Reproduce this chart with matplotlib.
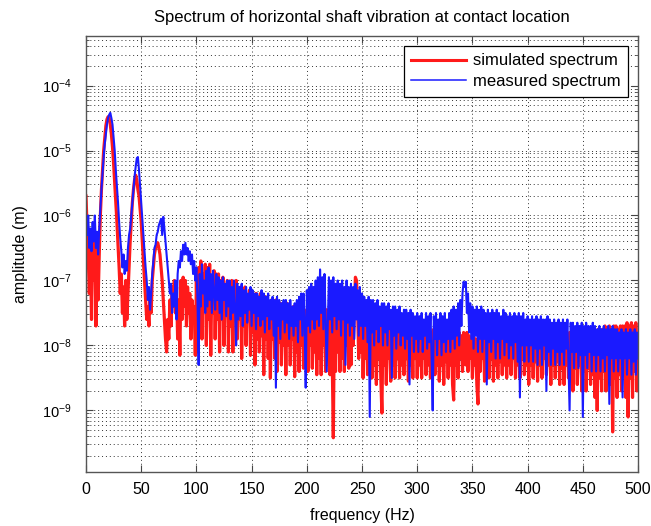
import numpy as np
import matplotlib
matplotlib.use("Agg")
import matplotlib.pyplot as plt
from matplotlib.ticker import LogLocator, MultipleLocator, NullFormatter, FixedLocator

FONT = ["Liberation Sans Narrow", "Liberation Sans", "DejaVu Sans"]
plt.rcParams["font.family"] = FONT
plt.rcParams["mathtext.fontset"] = "custom"
plt.rcParams["mathtext.rm"] = "Liberation Sans"
plt.rcParams["mathtext.it"] = "Liberation Sans"
plt.rcParams["mathtext.default"] = "regular"

freq = np.arange(0, 501, 1)
decades = [-9, -8, -7, -6, -5, -4]

# log10 of amplitude (m), one row = 10 Hz
sim_log = [
    -5.7, -6.2, -6.6, -7.2, -6.5, -7.6, -6.4, -7.0, -6.3, -7.7,    # 0
    -6.5, -7.3, -6.6, -6.0, -5.6, -5.3, -5.0, -4.8, -4.62, -4.52,  # 10
    -4.48, -4.5, -4.6, -4.75, -4.95, -5.2, -5.5, -5.8, -6.1, -6.45,# 20
    -6.8, -7.2, -6.9, -7.5, -7.1, -7.7, -7.0, -7.6, -7.2, -6.8,    # 30
    -6.4, -6.1, -5.8, -5.6, -5.45, -5.38, -5.45, -5.6, -5.7, -5.9, # 40
    -6.1, -6.4, -6.7, -7.0, -7.3, -7.6, -7.4, -7.7, -7.2, -7.5,    # 50
    -7.0, -6.8, -6.6, -6.5, -6.45, -6.42, -6.5, -6.6, -6.8, -7.0,  # 60
    -7.3, -7.6, -7.9, -8.1, -7.6, -7.9, -7.3, -7.7, -7.1, -7.4,    # 70
    -7.0, -7.5, -7.1, -7.9, -7.3, -8.15, -7.0, -7.6, -6.95, -7.4,  # 80
    -7.0, -7.7, -7.1, -7.5, -7.2, -7.9, -7.3, -7.6, -7.4, -8.15,   # 90
    -7.0, -8.1, -6.8, -7.5, -6.7, -7.9, -6.9, -7.4, -6.75, -8.0,   # 100
    -6.8, -7.6, -6.75, -8.15, -7.0, -7.5, -6.85, -7.9, -6.9, -7.6, # 110
    -6.9, -8.1, -7.0, -7.6, -6.95, -8.0, -7.1, -7.5, -7.0, -8.1,   # 120
    -7.05, -7.7, -7.0, -8.1, -7.1, -7.6, -7.0, -7.9, -7.15, -7.6,  # 130
    -7.1, -8.2, -7.2, -7.7, -7.1, -8.0, -7.25, -7.6, -7.15, -8.15, # 140
    -7.2, -7.8, -7.25, -8.3, -7.2, -7.9, -7.3, -8.1, -7.2, -7.85,  # 150
    -7.3, -8.45, -7.25, -7.9, -7.3, -8.2, -7.35, -8.5, -7.3, -7.9, # 160
    -7.35, -8.2, -7.3, -8.4, -7.4, -7.95, -7.35, -8.3, -7.4, -8.0, # 170
    -7.4, -8.45, -7.35, -8.0, -7.4, -8.3, -7.45, -7.9, -7.4, -8.48,# 180
    -7.45, -8.1, -7.4, -8.4, -7.45, -8.0, -7.4, -8.35, -7.5, -8.1, # 190
    -7.45, -8.4, -7.4, -8.0, -7.5, -8.35, -7.4, -8.1, -7.45, -8.45,# 200
    -7.4, -8.2, -7.45, -8.45, -7.4, -8.0, -7.5, -8.4, -7.45, -8.1, # 210
    -7.5, -8.45, -7.45, -8.2, -9.42, -7.5, -8.4, -7.45, -8.1, -7.5,# 220
    -8.4, -7.55, -8.2, -7.5, -8.4, -7.55, -8.0, -7.5, -8.35, -7.55,# 230
    -8.3, -7.5, -8.0, -7.45, -6.95, -7.0, -7.4, -8.2, -7.55, -8.1, # 240
    -7.6, -8.5, -7.65, -8.2, -7.6, -8.45, -7.65, -8.1, -7.6, -8.5, # 250
    -7.65, -8.3, -7.7, -8.6, -7.65, -8.2, -7.7, -8.5, -9.04, -7.7, # 260
    -8.3, -7.7, -8.6, -7.75, -8.2, -7.7, -8.55, -7.75, -8.3, -7.7, # 270
    -8.5, -7.75, -8.2, -7.8, -8.5, -7.75, -8.3, -7.8, -8.45, -7.75,# 280
    -8.2, -7.8, -8.55, -7.75, -8.3, -7.8, -8.5, -7.75, -8.2, -7.8, # 290
    -8.5, -7.8, -8.3, -7.85, -8.5, -7.8, -8.2, -7.85, -8.45, -7.8, # 300
    -8.3, -7.75, -8.5, -7.8, -8.2, -7.75, -8.45, -7.8, -8.3, -7.75,# 310
    -8.55, -7.8, -8.3, -7.85, -8.6, -7.8, -8.25, -7.85, -8.5, -7.8,# 320
    -8.3, -7.85, -8.6, -8.84, -7.8, -8.3, -7.85, -8.5, -7.8, -8.2, # 330
    -7.85, -8.4, -7.8, -7.85, -8.3, -7.8, -8.4, -7.85, -8.2, -7.9, # 340
    -8.5, -7.85, -8.3, -7.9, -8.6, -8.9, -7.85, -8.4, -7.9, -8.2,  # 350
    -7.85, -8.55, -7.9, -8.3, -7.85, -8.5, -7.9, -8.2, -7.85, -8.55,# 360
    -7.9, -8.3, -7.85, -8.5, -7.9, -8.25, -7.9, -8.45, -7.85, -8.3,# 370
    -7.9, -8.5, -7.85, -8.3, -7.9, -8.45, -7.9, -8.2, -7.85, -8.5, # 380
    -7.9, -8.3, -7.85, -8.5, -7.9, -8.2, -7.85, -8.45, -7.9, -8.3, # 390
    -7.85, -8.6, -7.9, -8.3, -7.85, -8.5, -7.9, -8.25, -7.85, -8.55,# 400
    -7.8, -8.3, -7.85, -8.5, -7.8, -8.2, -7.85, -8.45, -7.8, -8.3, # 410
    -7.85, -8.6, -7.8, -8.3, -7.85, -8.5, -7.8, -8.25, -7.85, -8.6,# 420
    -7.8, -8.35, -7.85, -8.6, -7.8, -8.3, -7.85, -8.5, -7.8, -8.4, # 430
    -7.8, -8.7, -7.85, -8.35, -7.8, -8.6, -7.8, -8.3, -7.85, -8.7, # 440
    -7.8, -8.4, -7.75, -8.7, -7.8, -8.35, -7.8, -8.6, -7.75, -8.45,# 450
    -7.75, -8.8, -7.8, -9.0, -7.75, -8.5, -7.8, -8.7, -7.75, -8.4, # 460
    -7.7, -8.7, -7.75, -8.4, -7.7, -8.6, -7.75, -9.33, -7.7, -8.5, # 470
    -7.7, -8.8, -7.75, -8.45, -7.7, -8.7, -7.7, -8.4, -7.7, -8.8,  # 480
    -7.65, -9.1, -7.7, -8.5, -7.65, -8.8, -7.7, -8.4, -7.65, -8.7, # 490
    -8.0,                                                          # 500
]

meas_log = [
    -6.1, -6.3, -6.0, -6.5, -6.2, -6.55, -6.1, -6.4, -6.0, -6.5,   # 0
    -6.25, -6.6, -6.2, -5.9, -5.6, -5.35, -5.1, -4.9, -4.75, -4.6, # 10
    -4.5, -4.45, -4.42, -4.5, -4.6, -4.8, -5.0, -5.3, -5.55, -5.8, # 20
    -6.1, -6.35, -6.55, -6.8, -6.6, -6.9, -6.7, -6.85, -6.5, -6.3, # 30
    -6.2, -6.0, -5.8, -5.6, -5.4, -5.25, -5.12, -5.1, -5.3, -5.55, # 40
    -5.8, -6.05, -6.3, -6.55, -6.8, -7.0, -7.3, -7.1, -7.45, -7.2, # 50
    -6.9, -6.7, -6.5, -6.45, -6.3, -6.25, -6.15, -6.1, -6.05, -6.3,# 60
    -6.02, -6.2, -6.4, -6.6, -6.8, -7.0, -7.2, -7.05, -7.5, -7.2,  # 70
    -7.4, -7.0, -7.6, -6.9, -6.7, -6.8, -6.55, -6.7, -6.45, -6.6,  # 80
    -6.42, -6.6, -6.5, -6.7, -6.55, -6.75, -6.6, -6.9, -6.7, -7.0, # 90
    -6.8, -7.3, -8.3, -6.9, -7.4, -6.75, -7.2, -7.0, -7.5, -6.85,  # 100
    -7.4, -6.8, -7.3, -6.9, -7.5, -6.85, -7.2, -7.45, -6.9, -7.3,  # 110
    -6.95, -7.5, -7.0, -7.6, -6.95, -7.3, -7.05, -7.55, -7.0, -7.4,# 120
    -7.0, -7.6, -7.1, -7.5, -7.0, -7.45, -8.0, -7.05, -7.6, -7.1,  # 130
    -7.55, -7.05, -7.7, -7.15, -7.5, -7.1, -7.65, -7.2, -7.45, -7.1,# 140
    -7.7, -7.15, -7.5, -7.2, -7.75, -7.2, -7.55, -7.25, -7.7, -7.15,# 150
    -7.6, -7.2, -7.8, -7.25, -7.55, -7.2, -7.75, -7.3, -7.6, -7.25,# 160
    -7.85, -7.3, -8.65, -7.25, -7.7, -7.3, -7.9, -7.35, -7.6, -7.3,# 170
    -7.8, -7.3, -7.65, -7.35, -7.9, -7.3, -7.7, -7.4, -7.85, -7.35,# 180
    -7.7, -7.3, -7.95, -7.25, -7.6, -7.2, -7.85, -7.2, -7.65, -8.65,# 190
    -7.15, -7.7, -7.1, -7.8, -7.05, -7.6, -7.1, -7.75, -7.0, -7.6, # 200
    -6.95, -7.7, -6.83, -7.5, -6.95, -7.75, -6.9, -7.6, -8.4, -7.7,# 210
    -6.95, -7.6, -7.0, -7.8, -6.95, -7.55, -7.05, -7.75, -7.0, -7.6,# 220
    -7.05, -7.85, -7.0, -7.6, -7.1, -8.3, -7.0, -7.65, -7.1, -7.85,# 230
    -7.05, -7.7, -7.1, -7.9, -7.05, -7.6, -7.15, -7.85, -7.1, -7.7,# 240
    -7.2, -7.9, -7.25, -7.7, -7.3, -7.95, -7.25, -9.1, -7.3, -7.8, # 250
    -7.3, -8.0, -7.35, -7.75, -7.3, -7.95, -7.4, -7.7, -7.35, -8.0,# 260
    -7.35, -7.8, -7.4, -8.0, -7.35, -7.75, -7.45, -8.5, -7.4, -7.85,# 270
    -7.4, -8.05, -7.45, -7.8, -7.4, -8.0, -7.5, -7.85, -7.45, -8.05,# 280
    -7.45, -7.9, -7.5, -8.6, -7.45, -7.85, -7.5, -8.1, -7.55, -7.9,# 290
    -7.5, -8.1, -7.55, -7.9, -7.5, -8.1, -7.6, -7.85, -7.5, -8.05, # 300
    -7.55, -7.95, -7.5, -8.15, -9.0, -7.55, -7.9, -7.5, -8.15, -7.6,# 310
    -7.9, -7.5, -8.15, -7.55, -7.95, -7.5, -8.1, -7.6, -7.9, -7.5, # 320
    -8.1, -7.45, -7.9, -7.4, -8.05, -7.45, -7.85, -7.35, -8.0, -7.3,# 330
    -7.7, -7.2, -7.02, -7.1, -7.02, -7.5, -7.2, -7.8, -7.35, -7.9, # 340
    -7.4, -8.05, -7.45, -7.85, -7.4, -8.1, -7.45, -7.9, -7.4, -8.1,# 350
    -7.45, -7.9, -7.5, -8.6, -7.45, -7.95, -7.5, -8.1, -7.45, -7.9,# 360
    -7.5, -8.2, -7.45, -7.95, -7.5, -8.2, -7.55, -7.9, -7.45, -8.15,# 370
    -7.5, -7.95, -7.55, -8.2, -7.5, -8.0, -7.55, -8.2, -7.5, -7.95,# 380
    -7.55, -8.25, -7.5, -8.8, -7.55, -8.0, -7.5, -8.25, -7.6, -8.0,# 390
    -7.55, -8.25, -7.6, -8.0, -7.55, -8.25, -7.6, -8.05, -7.55, -8.3,# 400
    -7.6, -8.05, -7.55, -8.3, -7.6, -8.0, -7.6, -8.7, -7.55, -8.1, # 410
    -7.6, -8.3, -7.65, -8.05, -7.6, -8.3, -7.65, -8.1, -7.6, -8.3, # 420
    -7.65, -8.1, -7.6, -8.3, -7.65, -8.05, -7.6, -8.3, -9.0, -7.65,# 430
    -8.1, -7.65, -8.35, -7.7, -8.1, -7.65, -8.35, -7.7, -8.15, -7.65,# 440
    -9.1, -7.7, -8.15, -7.65, -8.35, -7.7, -8.1, -7.7, -8.4, -7.65,# 450
    -8.15, -7.7, -8.4, -7.75, -8.15, -7.7, -8.4, -7.75, -8.2, -7.7,# 460
    -8.4, -7.75, -8.15, -7.7, -8.9, -7.75, -8.2, -7.7, -8.4, -7.75,# 470
    -8.2, -7.75, -8.4, -7.8, -8.2, -7.75, -8.8, -7.8, -8.2, -7.75, # 480
    -8.45, -7.8, -8.2, -7.75, -8.45, -7.8, -8.25, -7.75, -8.45, -7.8,# 490
    -8.2,                                                          # 500
]

simulated = 10.0 ** np.array(sim_log)
measured = 10.0 ** np.array(meas_log)

fig = plt.figure(figsize=(6.51, 5.26), dpi=100)
ax = fig.add_axes([0.1321, 0.1027, 0.848, 0.829])

ax.semilogy(freq, simulated, color="#ff1a1a", lw=2.3, label="simulated spectrum")
ax.semilogy(freq, measured, color="#1a1aff", lw=1.5, label="measured spectrum")

ax.set_xlim(0, 500)
ax.set_ylim(1.13e-10, 5.8e-4)
ax.xaxis.set_major_locator(MultipleLocator(50))
ax.yaxis.set_major_locator(FixedLocator(10.0 ** np.array(decades, dtype=float)))
ax.yaxis.set_minor_locator(LogLocator(base=10, subs=np.arange(2, 10), numticks=20))
ax.yaxis.set_minor_formatter(NullFormatter())

ax.grid(True, which="major", axis="both", color="#333333", linestyle=(0, (1, 3)), lw=0.7)
ax.grid(True, which="minor", axis="y", color="#333333", linestyle=(0, (1, 3)), lw=0.7)

ax.tick_params(which="both", direction="in", top=True, right=True, colors="#444444",
               labelcolor="black")
ax.tick_params(axis="x", labelsize=11.5, pad=7)
ax.tick_params(axis="y", labelsize=10.5, pad=10)
ax.tick_params(which="major", length=5)
ax.tick_params(which="minor", length=2.5)
for s in ax.spines.values():
    s.set_color("#555555")
    s.set_linewidth(1.0)

ax.set_title("Spectrum of horizontal shaft vibration at contact location", fontsize=12, pad=10)
ax.set_xlabel("frequency (Hz)", fontsize=11.5, labelpad=8)
ax.set_ylabel("amplitude (m)", fontsize=11.5, labelpad=10)

leg = ax.legend(loc="upper right", fontsize=12, fancybox=False, framealpha=1,
                edgecolor="black", handlelength=3.3, borderaxespad=0.6,
                borderpad=0.45, labelspacing=0.35, handletextpad=0.4)
leg.get_frame().set_linewidth(0.9)
leg.get_lines()[0].set_linewidth(2.2)
leg.get_lines()[1].set_linewidth(1.1)

fig.savefig("out.png", dpi=100)
